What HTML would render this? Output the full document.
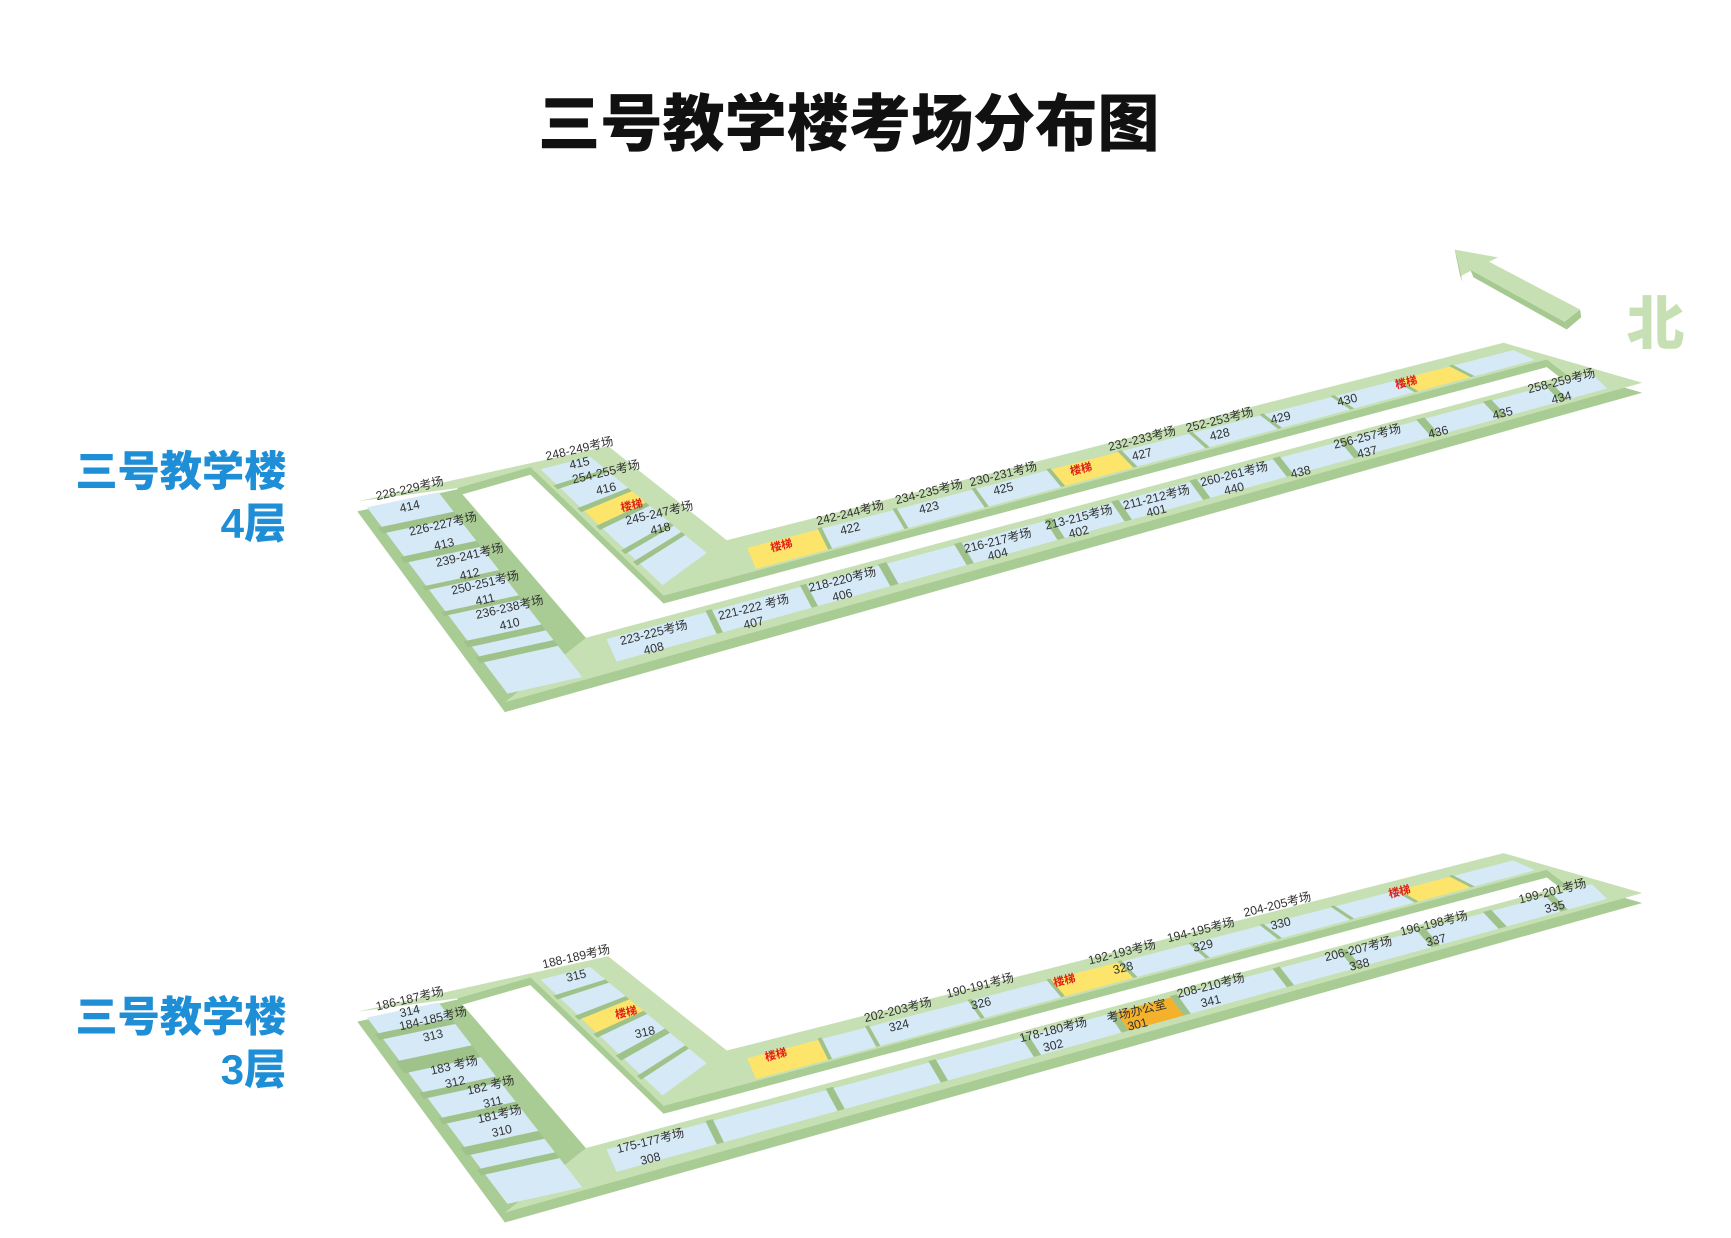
<!DOCTYPE html>
<html><head><meta charset="utf-8"><style>
html,body{margin:0;padding:0;background:#fff;}
svg{display:block;}
.t{font-family:"Liberation Sans","Noto Sans CJK SC",sans-serif;font-size:11px;fill:#333;}
.s{font-family:"Liberation Sans","Noto Sans CJK SC",sans-serif;font-size:10px;fill:#e0201a;font-weight:bold;}
.h{font-family:"Liberation Sans","Noto Sans CJK SC",sans-serif;font-weight:900;}
</style></head><body>
<svg id="sv" width="1731" height="1238" viewBox="0 0 1560 1116" preserveAspectRatio="none" xmlns="http://www.w3.org/2000/svg">
<defs>
<clipPath id="hc0"><polygon points="412,440 478,421 598,537 1394,324 1412,338 528,575"/></clipPath>
<clipPath id="hc1"><polygon transform="translate(0,460)" points="412,440 478,421 598,537 1394,324 1412,338 528,575"/></clipPath>
</defs>
<g id="floors"></g>
<text class="h" x="765" y="131" font-size="56" text-anchor="middle" fill="#111">三号教学楼考场分布图</text>
<text class="h" x="258" y="438" font-size="38" text-anchor="end" fill="#1e8fd6">三号教学楼</text>
<text class="h" x="258" y="485" font-size="38" text-anchor="end" fill="#1e8fd6">4层</text>
<text class="h" x="258" y="930" font-size="38" text-anchor="end" fill="#1e8fd6">三号教学楼</text>
<text class="h" x="258" y="977" font-size="38" text-anchor="end" fill="#1e8fd6">3层</text>
<polygon points="1410,290 1424,279 1425,286 1412,297" fill="#a5c98f"/>
<polygon points="1325,243 1410,290 1412,297 1328,250" fill="#a5c98f"/>
<polygon points="1342,236 1424,279 1410,290 1325,243" fill="#c6e0b4"/>
<polygon points="1311,225 1350,232 1316,249" fill="#c6e0b4"/>
<polygon points="1311,225 1316,249 1318,254 1313,232" fill="#a5c98f"/>
<text class="h" x="1492" y="310" font-size="52" text-anchor="middle" fill="#c6e0b4">北</text>
<g id="labels">
<text class="t" transform="translate(370,444) rotate(-13)" text-anchor="middle">228-229考场</text>
<text class="t" transform="translate(370,460) rotate(-13)" text-anchor="middle">414</text>
<text class="t" transform="translate(400,476) rotate(-13)" text-anchor="middle">226-227考场</text>
<text class="t" transform="translate(401,494) rotate(-13)" text-anchor="middle">413</text>
<text class="t" transform="translate(424,504) rotate(-13)" text-anchor="middle">239-241考场</text>
<text class="t" transform="translate(424,521) rotate(-13)" text-anchor="middle">412</text>
<text class="t" transform="translate(438,529) rotate(-13)" text-anchor="middle">250-251考场</text>
<text class="t" transform="translate(438,544) rotate(-13)" text-anchor="middle">411</text>
<text class="t" transform="translate(460,551) rotate(-13)" text-anchor="middle">236-238考场</text>
<text class="t" transform="translate(460,566) rotate(-13)" text-anchor="middle">410</text>
<text class="t" transform="translate(523,408) rotate(-13)" text-anchor="middle">248-249考场</text>
<text class="t" transform="translate(523,421) rotate(-13)" text-anchor="middle">415</text>
<text class="t" transform="translate(547,429) rotate(-13)" text-anchor="middle">254-255考场</text>
<text class="t" transform="translate(547,444) rotate(-13)" text-anchor="middle">416</text>
<text class="s" transform="translate(570,459) rotate(-13)" text-anchor="middle">楼梯</text>
<text class="t" transform="translate(595,466) rotate(-13)" text-anchor="middle">245-247考场</text>
<text class="t" transform="translate(596,480) rotate(-13)" text-anchor="middle">418</text>
<text class="s" transform="translate(705,495) rotate(-14)" text-anchor="middle">楼梯</text>
<text class="t" transform="translate(767,466) rotate(-14)" text-anchor="middle">242-244考场</text>
<text class="t" transform="translate(767,480) rotate(-14)" text-anchor="middle">422</text>
<text class="t" transform="translate(838,447) rotate(-14)" text-anchor="middle">234-235考场</text>
<text class="t" transform="translate(838,461) rotate(-14)" text-anchor="middle">423</text>
<text class="t" transform="translate(905,431) rotate(-14)" text-anchor="middle">230-231考场</text>
<text class="t" transform="translate(905,444) rotate(-14)" text-anchor="middle">425</text>
<text class="s" transform="translate(975,426) rotate(-14)" text-anchor="middle">楼梯</text>
<text class="t" transform="translate(1030,399) rotate(-14)" text-anchor="middle">232-233考场</text>
<text class="t" transform="translate(1030,413) rotate(-14)" text-anchor="middle">427</text>
<text class="t" transform="translate(1100,382) rotate(-14)" text-anchor="middle">252-253考场</text>
<text class="t" transform="translate(1100,395) rotate(-14)" text-anchor="middle">428</text>
<text class="t" transform="translate(1155,380) rotate(-14)" text-anchor="middle">429</text>
<text class="t" transform="translate(1215,364) rotate(-14)" text-anchor="middle">430</text>
<text class="s" transform="translate(1268,348) rotate(-14)" text-anchor="middle">楼梯</text>
<text class="t" transform="translate(1408,347) rotate(-14)" text-anchor="middle">258-259考场</text>
<text class="t" transform="translate(1408,362) rotate(-14)" text-anchor="middle">434</text>
<text class="t" transform="translate(1355,376) rotate(-14)" text-anchor="middle">435</text>
<text class="t" transform="translate(1297,393) rotate(-14)" text-anchor="middle">436</text>
<text class="t" transform="translate(1233,397) rotate(-14)" text-anchor="middle">256-257考场</text>
<text class="t" transform="translate(1233,411) rotate(-14)" text-anchor="middle">437</text>
<text class="t" transform="translate(1173,429) rotate(-14)" text-anchor="middle">438</text>
<text class="t" transform="translate(1113,431) rotate(-14)" text-anchor="middle">260-261考场</text>
<text class="t" transform="translate(1113,444) rotate(-14)" text-anchor="middle">440</text>
<text class="t" transform="translate(1043,452) rotate(-14)" text-anchor="middle">211-212考场</text>
<text class="t" transform="translate(1043,464) rotate(-14)" text-anchor="middle">401</text>
<text class="t" transform="translate(973,470) rotate(-14)" text-anchor="middle">213-215考场</text>
<text class="t" transform="translate(973,483) rotate(-14)" text-anchor="middle">402</text>
<text class="t" transform="translate(900,491) rotate(-14)" text-anchor="middle">216-217考场</text>
<text class="t" transform="translate(900,503) rotate(-14)" text-anchor="middle">404</text>
<text class="t" transform="translate(760,526) rotate(-14)" text-anchor="middle">218-220考场</text>
<text class="t" transform="translate(760,540) rotate(-14)" text-anchor="middle">406</text>
<text class="t" transform="translate(680,551) rotate(-14)" text-anchor="middle">221-222 考场</text>
<text class="t" transform="translate(680,565) rotate(-14)" text-anchor="middle">407</text>
<text class="t" transform="translate(590,574) rotate(-14)" text-anchor="middle">223-225考场</text>
<text class="t" transform="translate(590,588) rotate(-14)" text-anchor="middle">408</text>
<text class="t" transform="translate(370,904) rotate(-13)" text-anchor="middle">186-187考场</text>
<text class="t" transform="translate(370,915) rotate(-13)" text-anchor="middle">314</text>
<text class="t" transform="translate(391,922) rotate(-13)" text-anchor="middle">184-185考场</text>
<text class="t" transform="translate(391,937) rotate(-13)" text-anchor="middle">313</text>
<text class="t" transform="translate(410,964) rotate(-13)" text-anchor="middle">183 考场</text>
<text class="t" transform="translate(411,979) rotate(-13)" text-anchor="middle">312</text>
<text class="t" transform="translate(443,982) rotate(-13)" text-anchor="middle">182 考场</text>
<text class="t" transform="translate(445,997) rotate(-13)" text-anchor="middle">311</text>
<text class="t" transform="translate(451,1008) rotate(-13)" text-anchor="middle">181考场</text>
<text class="t" transform="translate(453,1023) rotate(-13)" text-anchor="middle">310</text>
<text class="t" transform="translate(520,866) rotate(-13)" text-anchor="middle">188-189考场</text>
<text class="t" transform="translate(520,883) rotate(-13)" text-anchor="middle">315</text>
<text class="s" transform="translate(565,916) rotate(-13)" text-anchor="middle">楼梯</text>
<text class="t" transform="translate(582,934) rotate(-13)" text-anchor="middle">318</text>
<text class="s" transform="translate(700,954) rotate(-14)" text-anchor="middle">楼梯</text>
<text class="t" transform="translate(810,914) rotate(-14)" text-anchor="middle">202-203考场</text>
<text class="t" transform="translate(811,928) rotate(-14)" text-anchor="middle">324</text>
<text class="t" transform="translate(884,892) rotate(-14)" text-anchor="middle">190-191考场</text>
<text class="t" transform="translate(885,908) rotate(-14)" text-anchor="middle">326</text>
<text class="s" transform="translate(960,887) rotate(-14)" text-anchor="middle">楼梯</text>
<text class="t" transform="translate(1012,862) rotate(-14)" text-anchor="middle">192-193考场</text>
<text class="t" transform="translate(1013,876) rotate(-14)" text-anchor="middle">328</text>
<text class="t" transform="translate(1083,842) rotate(-14)" text-anchor="middle">194-195考场</text>
<text class="t" transform="translate(1085,856) rotate(-14)" text-anchor="middle">329</text>
<text class="t" transform="translate(1152,819) rotate(-14)" text-anchor="middle">204-205考场</text>
<text class="t" transform="translate(1155,836) rotate(-14)" text-anchor="middle">330</text>
<text class="s" transform="translate(1262,807) rotate(-14)" text-anchor="middle">楼梯</text>
<text class="t" transform="translate(1400,807) rotate(-14)" text-anchor="middle">199-201考场</text>
<text class="t" transform="translate(1402,821) rotate(-14)" text-anchor="middle">335</text>
<text class="t" transform="translate(1293,836) rotate(-14)" text-anchor="middle">196-198考场</text>
<text class="t" transform="translate(1295,851) rotate(-14)" text-anchor="middle">337</text>
<text class="t" transform="translate(1225,859) rotate(-14)" text-anchor="middle">206-207考场</text>
<text class="t" transform="translate(1226,873) rotate(-14)" text-anchor="middle">338</text>
<text class="t" transform="translate(1092,892) rotate(-14)" text-anchor="middle">208-210考场</text>
<text class="t" transform="translate(1092,906) rotate(-14)" text-anchor="middle">341</text>
<text class="t" transform="translate(1025,915) rotate(-14)" text-anchor="middle">考场办公室</text>
<text class="t" transform="translate(1026,927) rotate(-14)" text-anchor="middle">301</text>
<text class="t" transform="translate(950,932) rotate(-14)" text-anchor="middle">178-180考场</text>
<text class="t" transform="translate(950,946) rotate(-14)" text-anchor="middle">302</text>
<text class="t" transform="translate(587,1032) rotate(-14)" text-anchor="middle">175-177考场</text>
<text class="t" transform="translate(587,1048) rotate(-14)" text-anchor="middle">308</text>
</g>
</svg>
<script>
(function(){
var NS="http://www.w3.org/2000/svg";
var G=document.getElementById("floors");
var GREEN="#c6e0b4",SIDE="#a8cc93",WALL="#9fc28a",BLUE="#d5e9f6",YEL="#fde46a",ORG="#f4b12c";
function el(n,a,p){var e=document.createElementNS(NS,n);for(var k in a)e.setAttribute(k,a[k]);(p||G).appendChild(e);return e;}
function L(a,b,t){return [a[0]+(b[0]-a[0])*t,a[1]+(b[1]-a[1])*t];}
function pt(c,t,s){return L(L(c.P0,c.P1,t),L(c.Q0,c.Q1,t),s);}
var OUT=[[322,452],[548,402],[655,487],[1355,309],[1480,345],[455,633]];
var HOLE=[[412,440],[478,421],[598,537],[1394,324],[1412,338],[528,575]];
function ps(arr,dy,dx){return arr.map(function(p){return (p[0]+(dx||0))+","+(p[1]+dy);}).join(" ");}
var C={
LW:{P0:[322,455],P1:[455,632],Q0:[408,437],Q1:[545,612],s:[0.07,0.82]},
MW:{P0:[478,421],P1:[598,537],Q0:[548,404],Q1:[660,490],s:[0.08,0.72]},
NC:{P0:[655,487],P1:[1360,309],Q0:[668,520],Q1:[1394,324],s:[0.32,0.9]},
SC:{P0:[530,576],P1:[1455,328],Q0:[545,610],Q1:[1478,350],s:[0.12,0.72]}
};
function quad(c,t0,t1,s0,s1,dy,fill,g){
 var a=pt(c,t0,s0),b=pt(c,t1,s0),d=pt(c,t1,s1),e=pt(c,t0,s1);
 el("polygon",{points:[a,b,d,e].map(function(p){return p[0]+","+(p[1]+dy);}).join(" "),fill:fill},g);
}
function rooms(c,list,dy,g){
 for(var i=0;i<list.length;i++){
  var r=list[i];
  quad(c,r[0],r[1],c.s[0],c.s[1],dy,r[2]||BLUE,g);
  if(i+1<list.length){quad(c,r[1],list[i+1][0],c.s[0]-0.04,c.s[1],dy,WALL,g);}
 }
}
var F4={
LW:[[.02,.12],[.15,.27],[.30,.42],[.44,.55],[.57,.70],[.73,.78],[.81,.97]],
MW:[[.03,.15],[.18,.33],[.36,.47,YEL],[.50,.66],[.69,.75],[.78,.95]],
NC:[[.02,.11,YEL],[.115,.205],[.21,.305],[.31,.40],[.405,.49,YEL],[.495,.58],[.585,.67],[.675,.76],[.765,.84],[.845,.91,YEL],[.915,.99]],
SC:[[.016,.113],[.119,.205],[.211,.281],[.289,.355],[.362,.443],[.45,.508],[.515,.584],[.591,.665],[.672,.73],[.737,.805],[.813,.87],[.878,.93],[.937,.975]]
};
var F3={
LW:[[.02,.10],[.13,.24],[.30,.40],[.43,.53],[.56,.68],[.72,.79],[.82,.97]],
MW:[[.03,.15],[.18,.31],[.34,.45,YEL],[.48,.62],[.66,.78],[.81,.95]],
NC:[[.02,.11,YEL],[.115,.17],[.175,.30],[.305,.40],[.405,.49,YEL],[.495,.58],[.585,.67],[.675,.76],[.765,.84],[.845,.91,YEL],[.915,.99]],
SC:[[.016,.113],[.12,.23],[.237,.33],[.337,.42],[.427,.505],[.512,.565,ORG],[.572,.665],[.672,.73],[.737,.805],[.813,.87],[.878,.93],[.937,.975]]
};
function floor(dy,F,hc){
 var g=el("g",{});
 el("polygon",{points:ps(OUT,dy+9),fill:SIDE},g);
 el("polygon",{points:ps(OUT,dy)+" "+ps(HOLE.slice().reverse(),dy),fill:GREEN,"fill-rule":"evenodd"},g);
 ["LW","MW","NC","SC"].forEach(function(k){rooms(C[k],F[k],dy,g);});
 el("polygon",{points:ps(HOLE,dy),fill:SIDE},g);
 var hg=el("g",{"clip-path":"url(#"+hc+")"},g);
 el("polygon",{points:ps(HOLE,dy+7),fill:"#fff"},hg);
}
floor(0,F4,"hc0");
floor(460,F3,"hc1");
})();
</script>
</body></html>
